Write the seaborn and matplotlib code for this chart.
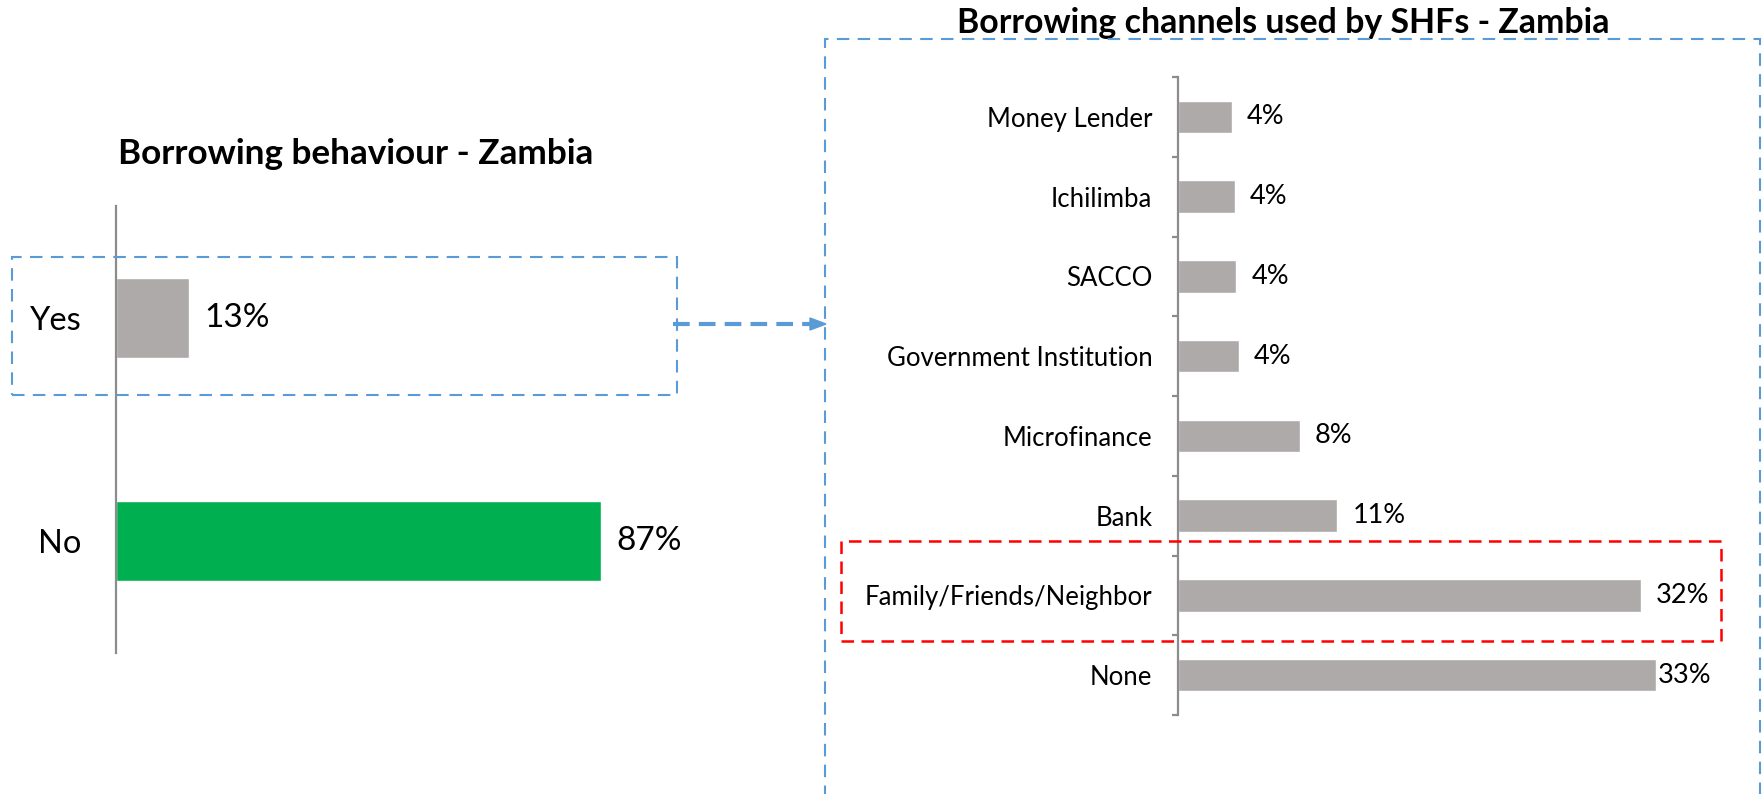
import matplotlib
matplotlib.use("Agg")
import matplotlib.pyplot as plt
from matplotlib.lines import Line2D
from matplotlib.patches import Rectangle, Polygon
import seaborn as sns
import pandas as pd

# ---- data -------------------------------------------------------------
behaviour_labels = ["Yes", "No"]
behaviour_values = [13, 87]

channel_labels = ["Money Lender", "Ichilimba", "SACCO", "Government Institution",
                  "Microfinance", "Bank", "Family/Friends/Neighbor", "None"]
channel_values = [3.7, 3.9, 4.0, 4.2, 8.4, 11.0, 31.9, 33.0]

left_title = "Borrowing behaviour - Zambia"
right_title = "Borrowing channels used by SHFs - Zambia"

# ---- style ------------------------------------------------------------
sns.set_theme(style="white")
plt.rcParams["font.family"] = ["Lato", "DejaVu Sans"]

GREY = "#AEAAAA"
GREEN = "#00B050"
BLUE = "#5B9BD5"
RED = "#FF0000"
AXIS = "#8C8C8C"

W, H = 1765, 794
fig = plt.figure(figsize=(W / 100, H / 100), dpi=100)


def px_rect(x0, y0, x1, y1):
    """Axes rectangle given pixel box (top-left origin)."""
    return [x0 / W, 1 - y1 / H, (x1 - x0) / W, (y1 - y0) / H]


def fx(x):
    return x / W


def fy(y):
    return 1 - y / H


# ---- left panel: borrowing yes / no ------------------------------------
ax1 = fig.add_axes(px_rect(116, 206, 674, 653))
df1 = pd.DataFrame({"answer": behaviour_labels, "share": behaviour_values})
sns.barplot(data=df1, y="answer", x="share", hue="answer",
            palette=[GREY, GREEN], orient="h", width=0.36,
            legend=False, ax=ax1, saturation=1)
ax1.set_xlim(0, 100)
ax1.set_ylim(1.5, -0.5)
ax1.set_xlabel("")
ax1.set_ylabel("")
for s in ["top", "right", "bottom"]:
    ax1.spines[s].set_visible(False)
ax1.spines["left"].set_color(AXIS)
ax1.spines["left"].set_linewidth(1.6)
ax1.set_xticks([])
ax1.tick_params(axis="y", length=0, pad=25, labelsize=23.5, labelcolor="black")
for i, v in enumerate(behaviour_values):
    ax1.annotate(f"{v:.0f}%", xy=(v, i), xytext=(11, 0),
                 textcoords="offset points", va="center", ha="left",
                 fontsize=24, color="black")

# ---- right panel: channels --------------------------------------------
ax2 = fig.add_axes(px_rect(1178, 77, 1758, 715))
df2 = pd.DataFrame({"channel": channel_labels, "share": channel_values})
sns.barplot(data=df2, y="channel", x="share", color=GREY, orient="h",
            width=0.41, ax=ax2, saturation=1)
ax2.set_xlim(0, 40)
ax2.set_ylim(len(channel_labels) - 0.5, -0.5)
ax2.set_xlabel("")
ax2.set_ylabel("")
for s in ["top", "right", "bottom"]:
    ax2.spines[s].set_visible(False)
ax2.spines["left"].set_color(AXIS)
ax2.spines["left"].set_linewidth(1.6)
ax2.set_xticks([])
ax2.set_yticks([i - 0.5 for i in range(len(channel_labels) + 1)], minor=True)
ax2.tick_params(axis="y", which="major", length=0, pad=18.5,
                labelsize=18.5, labelcolor="black")
ax2.tick_params(axis="y", which="minor", length=4.5, width=1.6,
                color=AXIS, direction="out", left=True)
label_offsets = [11, 11, 11, 11, 11, 11, 11, 1]
for i, (v, off) in enumerate(zip(channel_values, label_offsets)):
    ax2.annotate(f"{v:.0f}%", xy=(v, i), xytext=(off, 0),
                 textcoords="offset points", va="center", ha="left",
                 fontsize=19.5, color="black")

# ---- titles -----------------------------------------------------------
fig.text(fx(356), fy(154), left_title, ha="center", va="center",
         fontsize=25.3, fontweight="bold", color="black")
fig.text(fx(1283), fy(23), right_title, ha="center", va="center",
         fontsize=24.4, fontweight="bold", color="black")

# ---- highlight boxes and connector -------------------------------------
def dashed_box(x0, y0, x1, y1, color, lw, dashes):
    fig.patches.append(Rectangle((fx(x0), fy(y1)), fx(x1) - fx(x0), fy(y0) - fy(y1),
                                 transform=fig.transFigure, fill=False,
                                 edgecolor=color, linewidth=lw,
                                 linestyle=(0, dashes), zorder=5))

dashed_box(12, 257, 677, 395, BLUE, 1.5, (6, 4))
dashed_box(825, 39, 1760, 820, BLUE, 1.5, (6, 4))
dashed_box(841, 541, 1721, 641, RED, 1.8, (5, 3))

fig.lines.append(Line2D([fx(673), fx(812)], [fy(324), fy(324)],
                        transform=fig.transFigure, color=BLUE, linewidth=3,
                        linestyle=(0, (4, 2.2)), zorder=5))
fig.patches.append(Polygon([(fx(810), fy(318)), (fx(826), fy(324)), (fx(810), fy(330))],
                           closed=True, transform=fig.transFigure,
                           facecolor=BLUE, edgecolor=BLUE, zorder=5))

fig.savefig("out.png", dpi=100, facecolor="white")
